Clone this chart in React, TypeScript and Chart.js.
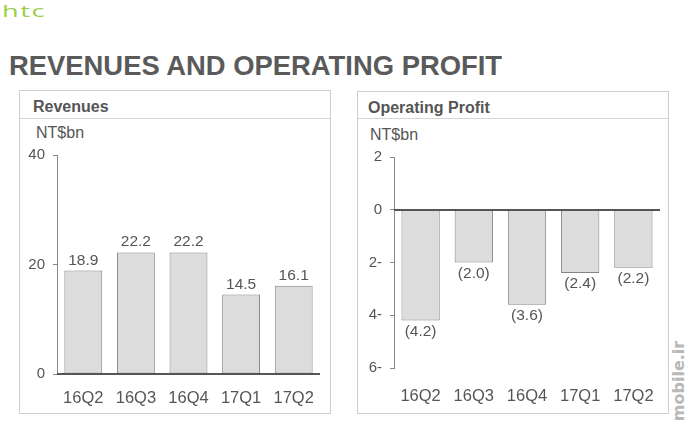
import React, { useEffect, useRef } from "react";
import { Chart, registerables } from "chart.js";

Chart.register(...registerables);

const categories = ["16Q2", "16Q3", "16Q4", "17Q1", "17Q2"];
const revenues = [18.9, 22.2, 22.2, 14.5, 16.1];
const operatingProfit = [-4.2, -2.0, -3.6, -2.4, -2.2];
const revenueTicks = [0, 20, 40];
const profitTicks = [2, 0, -2, -4, -6];

const FONT = "'Liberation Sans', Arial, Helvetica, sans-serif";
const TEXT = "#555555";

const labelPlugin = (fmt: (v: number) => string) => ({
  id: "valueLabels",
  afterDatasetsDraw(chart: any) {
    const ctx = chart.ctx;
    const meta = chart.getDatasetMeta(0);
    const data = chart.data.datasets[0].data as number[];
    const yScale = chart.scales.y;
    const area = chart.chartArea;
    ctx.save();
    const y0 = Math.round(yScale.getPixelForValue(0));
    ctx.strokeStyle = "#555555";
    ctx.lineWidth = 2;
    ctx.beginPath();
    ctx.moveTo(area.left, y0);
    ctx.lineTo(area.right, y0);
    ctx.stroke();
    ctx.font = `15.5px ${FONT}`;
    ctx.fillStyle = TEXT;
    ctx.textAlign = "center";
    ctx.textBaseline = "alphabetic";
    meta.data.forEach((bar: any, i: number) => {
      const v = data[i];
      const y = v >= 0 ? bar.y - 6 : bar.y + 15;
      ctx.fillText(fmt(v), bar.x, y);
    });
    ctx.restore();
  },
});

function BarChart(props: {
  values: number[];
  ticks: number[];
  min: number;
  max: number;
  yWidth: number;
  xHeight: number;
  padTop: number;
  padRight: number;
  xPad: number;
  tickFmt: (v: number) => string;
  valFmt: (v: number) => string;
  style: React.CSSProperties;
  width: number;
  height: number;
}) {
  const ref = useRef<HTMLCanvasElement>(null);
  useEffect(() => {
    const chart = new Chart(ref.current as HTMLCanvasElement, {
      type: "bar",
      data: {
        labels: categories,
        datasets: [
          {
            data: props.values,
            backgroundColor: "#dcdcdc",
            borderColor: "#858585",
            borderWidth: 1,
            borderSkipped: false,
            categoryPercentage: 1,
            barPercentage: 0.72,
          },
        ],
      },
      options: {
        animation: false,
        responsive: false,
        devicePixelRatio: 1,
        layout: { padding: { top: props.padTop, right: props.padRight, left: 0, bottom: 0 } },
        plugins: { legend: { display: false }, tooltip: { enabled: false }, title: { display: false } },
        scales: {
          x: {
            grid: { display: false },
            border: { display: false },
            ticks: { color: TEXT, font: { family: FONT, size: 16.5 }, padding: props.xPad, maxRotation: 0 },
            afterFit: (s: any) => {
              s.height = props.xHeight;
            },
          },
          y: {
            min: props.min,
            max: props.max,
            afterBuildTicks: (s: any) => {
              s.ticks = props.ticks.map((v) => ({ value: v }));
            },
            grid: { display: true, drawOnChartArea: false, drawTicks: true, tickLength: 4, color: "#888888" },
            border: { display: true, color: "#888888", width: 1 },
            ticks: {
              color: TEXT,
              font: { family: FONT, size: 15 },
              padding: 8,
              callback: (v: any) => props.tickFmt(Number(v)),
            },
            afterFit: (s: any) => {
              s.width = props.yWidth;
            },
          },
        },
      },
      plugins: [labelPlugin(props.valFmt)],
    } as any);
    return () => chart.destroy();
  }, []);
  return <canvas ref={ref} width={props.width} height={props.height} style={{ position: "absolute", ...props.style }} />;
}

const abs: React.CSSProperties = { position: "absolute", whiteSpace: "nowrap", fontFamily: FONT };

export default function App() {
  return (
    <div
      style={{
        position: "absolute",
        left: 0,
        top: 0,
        width: 690,
        height: 430,
        background: "#ffffff",
        overflow: "hidden",
        fontFamily: FONT,
      }}
    >
      <div
        style={{
          ...abs,
          left: 2,
          top: 1,
          fontFamily: "'Open Sans', 'DejaVu Sans', sans-serif",
          fontWeight: 400,
          fontSize: 17,
          lineHeight: "20px",
          color: "#9bcf4a",
          letterSpacing: 1,
          transform: "scaleX(1.6)",
          transformOrigin: "left top",
        }}
      >
        htc
      </div>
      <div style={{ ...abs, left: 9, top: 51, fontSize: 27.4, lineHeight: "30px", fontWeight: 700, color: "#5a5a5a" }}>
        REVENUES AND OPERATING PROFIT
      </div>

      {/* Left panel */}
      <div style={{ position: "absolute", left: 19, top: 90, width: 310, height: 322, border: "1px solid #cfcfcf" }} />
      <div style={{ position: "absolute", left: 20, top: 118, width: 310, height: 1, background: "#d5d5d5" }} />
      <div style={{ ...abs, left: 33, top: 97, fontSize: 16, lineHeight: "20px", fontWeight: 700, color: "#555" }}>Revenues</div>
      <div style={{ ...abs, left: 36, top: 123, fontSize: 16, lineHeight: "20px", color: TEXT }}>NT$bn</div>
      <BarChart
        values={revenues}
        ticks={revenueTicks}
        min={0}
        max={40}
        yWidth={37}
        xHeight={38}
        padTop={36}
        padRight={9}
        xPad={7}
        tickFmt={(v) => String(v)}
        valFmt={(v) => v.toFixed(1)}
        width={309}
        height={293}
        style={{ left: 20, top: 119 }}
      />

      {/* Right panel */}
      <div style={{ position: "absolute", left: 357, top: 91, width: 310, height: 321, border: "1px solid #cfcfcf" }} />
      <div style={{ position: "absolute", left: 358, top: 118, width: 310, height: 1, background: "#d5d5d5" }} />
      <div style={{ ...abs, left: 368, top: 98, fontSize: 16, lineHeight: "20px", fontWeight: 700, color: "#555" }}>
        Operating Profit
      </div>
      <div style={{ ...abs, left: 370, top: 125, fontSize: 16, lineHeight: "20px", color: TEXT }}>NT$bn</div>
      <BarChart
        values={operatingProfit}
        ticks={profitTicks}
        min={-6}
        max={2}
        yWidth={36}
        xHeight={44}
        padTop={38}
        padRight={7}
        xPad={11}
        tickFmt={(v) => (v < 0 ? `${-v}-` : String(v))}
        valFmt={(v) => (v < 0 ? `(${Math.abs(v).toFixed(1)})` : v.toFixed(1))}
        width={309}
        height={293}
        style={{ left: 358, top: 119 }}
      />

      <div
        style={{
          ...abs,
          left: 679,
          top: 381,
          fontFamily: "'DejaVu Sans', sans-serif",
          fontSize: 16,
          fontWeight: 700,
          lineHeight: "18px",
          color: "#b8b8b8",
          transform: "translate(-50%, -50%) rotate(-90deg)",
        }}
      >
        mobile.ir
      </div>
    </div>
  );
}
